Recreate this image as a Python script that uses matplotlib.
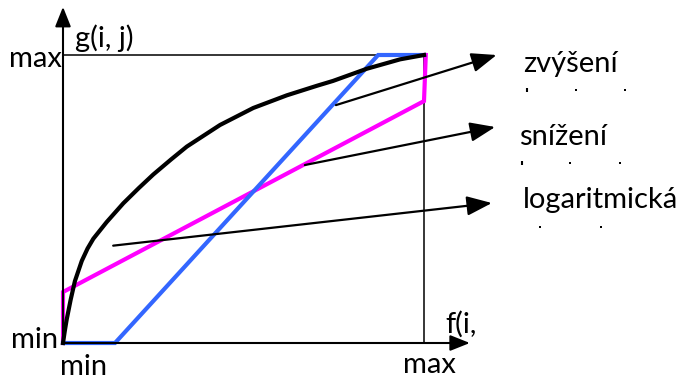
import matplotlib
matplotlib.use('Agg')
import matplotlib.pyplot as plt

plt.rcParams['font.family'] = ['Lato', 'DejaVu Sans']

# transfer curves, f(i,j) on x and g(i,j) on y, both scaled 0 (min) .. 1 (max)
log_x = [0, 0.005, 0.010, 0.021, 0.033, 0.052, 0.068, 0.084, 0.121, 0.167, 0.210,
         0.250, 0.300, 0.343, 0.435, 0.527, 0.620, 0.703, 0.748, 0.841, 0.934, 1.0]
log_y = [0, 0.042, 0.080, 0.149, 0.215, 0.285, 0.328, 0.362, 0.420, 0.485, 0.538,
         0.585, 0.638, 0.682, 0.757, 0.816, 0.860, 0.893, 0.910, 0.952, 0.985, 1.0]

raise_x = [0, 0.144, 0.873, 1.0]
raise_y = [0, 0, 1.0, 1.0]

lower_x = [0, 0, 1.0, 1.005]
lower_y = [0, 0.177, 0.840, 1.0]

# callouts: text, arrow start, arrow tip, text anchor
labels = ['zvýšení', 'snížení', 'logaritmická']
arrow_from = [(0.756, 0.826), (0.670, 0.618), (0.139, 0.338)]
arrow_to = [(1.201, 1.0), (1.197, 0.750), (1.188, 0.486)]
label_pos = [(1.274, 0.940), (1.262, 0.688), (1.274, 0.468)]

# leftover marks of the clipped second text line
tick_x = [1.285, 1.271]
tick_y = [0.878, 0.625]
dot_x = [1.421, 1.557, 1.404, 1.543, 1.321, 1.490]
dot_y = [0.878, 0.878, 0.625, 0.625, 0.403, 0.403]

fig = plt.figure(figsize=(6.85, 3.8), dpi=100)
ax = fig.add_axes([63 / 685, 37 / 380, 361 / 685, 288 / 380])
ax.set_xlim(0, 1)
ax.set_ylim(0, 1)
ax.axis('off')

# box
ax.plot([0, 1, 1], [1, 1, 0], color='black', lw=1.1, clip_on=False)

# axes with arrows
arrow_kw = dict(arrowstyle='-|>,head_length=0.75,head_width=0.3', color='black',
                lw=1.5, shrinkA=0, shrinkB=0, mutation_scale=16)
ax.annotate('', xy=(0, 1.167), xytext=(0, 0), arrowprops=arrow_kw, annotation_clip=False)
ax.annotate('', xy=(1.127, 0), xytext=(0, 0), arrowprops=arrow_kw, annotation_clip=False)

ax.plot(lower_x, lower_y, color='#ff00ff', lw=3, clip_on=False, solid_joinstyle='miter')
ax.plot(raise_x, raise_y, color='#3366ff', lw=3, clip_on=False, solid_joinstyle='miter')
ax.plot(log_x, log_y, color='black', lw=3, clip_on=False)

call_kw = dict(arrowstyle='-|>,head_length=0.85,head_width=0.33', color='black',
               lw=1.6, shrinkA=0, shrinkB=0, mutation_scale=18)
fs = 21
for text, start, tip, pos in zip(labels, arrow_from, arrow_to, label_pos):
    ax.annotate('', xy=tip, xytext=start, arrowprops=call_kw, annotation_clip=False)
    ax.text(pos[0], pos[1], text, fontsize=fs, ha='left', va='baseline', clip_on=False)

ax.scatter(tick_x, tick_y, marker='|', s=12, linewidths=1.5, color='black', clip_on=False)
ax.scatter(dot_x, dot_y, marker='s', s=3, color='black', linewidths=0, clip_on=False)

ax.text(-0.003, 0.958, 'max', fontsize=fs, ha='right', va='baseline', clip_on=False)
ax.text(0.033, 1.028, 'g(i, j)', fontsize=fs, ha='left', va='baseline', clip_on=False)
ax.text(-0.014, -0.017, 'min', fontsize=fs, ha='right', va='baseline', clip_on=False)
ax.text(-0.008, -0.111, 'min', fontsize=fs, ha='left', va='baseline', clip_on=False)
ax.text(0.942, -0.104, 'max', fontsize=fs, ha='left', va='baseline', clip_on=False)
ax.text(1.058, 0.035, 'f(i,', fontsize=fs, ha='left', va='baseline', clip_on=False)

fig.savefig('out.png', dpi=100)
